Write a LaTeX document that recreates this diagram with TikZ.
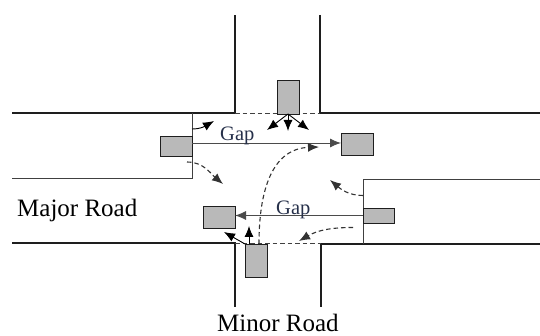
\documentclass[tikz,border=0pt]{standalone}
\usepackage{fontspec}
\setmainfont{Liberation Serif}
\usetikzlibrary{arrows.meta}
\definecolor{roadc}{HTML}{1E1E1E}
\definecolor{gapc}{HTML}{26304A}
\tikzset{
  x=1pt, y=-1pt,
  road/.style={line width=1.9pt, draw=roadc},
  thin/.style={line width=0.9pt, draw=roadc!85},
  car/.style={draw=roadc, line width=0.9pt, fill=gray!55, inner sep=0pt, outer sep=0pt},
  tip/.style={-{Latex[length=11pt,width=9pt]}},
  mv/.style={tip, line width=0.9pt, draw=black},
  dmv/.style={tip, line width=1.1pt, draw=black!80, dash pattern=on 4.5pt off 3pt},
  gaplbl/.style={inner sep=0pt, anchor=base west, text=gapc, font=\fontsize{20.5}{24}\selectfont},
  roadlbl/.style={inner sep=0pt, anchor=base west, font=\fontsize{25}{30}\selectfont}
}
\begin{document}
\begin{tikzpicture}
\useasboundingbox (0,0) rectangle (540,336);
% road edges
\draw[road] (12,113) -- (235,113) -- (235,15);
\draw[road] (320,15) -- (320,113) -- (540,113);
\draw[road] (12,243) -- (235,243) -- (235,307);
\draw[road] (540,244) -- (321,244) -- (321,307);
% stop lines and lane markings
\draw[thin] (12,178) -- (192,178) -- (192,113);
\draw[thin] (540,179) -- (363,179) -- (363,244);
\draw[thin, dash pattern=on 4.5pt off 3pt] (235,113) -- (320,113);
\draw[thin, dash pattern=on 4.5pt off 3pt] (235,243.5) -- (321,243.5);
% cars
\node[car, minimum width=22pt, minimum height=34pt] (carT) at (288,97) {};
\node[car, minimum width=32pt, minimum height=20pt] (carL) at (176,146) {};
\node[car, minimum width=32pt, minimum height=22pt] (carR1) at (357,144) {};
\node[car, minimum width=32pt, minimum height=22pt] (carL2) at (219,217) {};
\node[car, minimum width=31pt, minimum height=15pt] (carR2) at (378.5,215.5) {};
\node[car, minimum width=22pt, minimum height=33pt] (carB) at (256,260.5) {};
% gap arrows
\draw[mv, draw=roadc!80] ([yshift=3pt]carL.east) -- ([yshift=3pt]carL.east -| carR1.west);
\draw[mv, draw=roadc!80] (carR2.west) -- (carR2.west -| carL2.east);
\node[gaplbl] (gap1) at (220,141) {Gap};
\node[gaplbl] (gap2) at (276,215) {Gap};
% top car movements
\coordinate (tT1) at (267,130);
\coordinate (tT2) at (288,131);
\coordinate (tT3) at (309,130);
\draw[mv] (carT.south) -- (tT1);
\draw[mv] (carT.south) -- (tT2);
\draw[mv] (carT.south) -- (tT3);
% left car movements
\coordinate (tL1) at (214,121);
\coordinate (tL2) at (223,184);
\draw[mv] ([yshift=17pt]carL.east) to[out=0, in=210] (tL1);
\draw[dmv] ([xshift=-5pt,yshift=-16pt]carL.east) to[out=0, in=140] (tL2);
% bottom car movements
\coordinate (tB1) at (249,226);
\coordinate (tB2) at (224,232);
\coordinate (tB3) at (319,147);
\draw[mv] ([xshift=-7pt]carB.north) -- (tB1);
\draw[mv] (carB.north west) -- (tB2);
\draw[dmv] ([xshift=3pt]carB.north) .. controls (259,160) and (290,148) .. (tB3);
% right car movements
\coordinate (tR1) at (330,180);
\coordinate (tR2) at (299,241);
\draw[dmv] ([yshift=20pt]carR2.west) to[out=180, in=-40] (tR1);
\draw[dmv] ([xshift=-10pt,yshift=-12pt]carR2.west) to[out=180, in=30] (tR2);
% road labels
\node[roadlbl] (major) at (17,217) {Major Road};
\node[roadlbl] (minor) at (217,331) {Minor Road};
\end{tikzpicture}
\end{document}
